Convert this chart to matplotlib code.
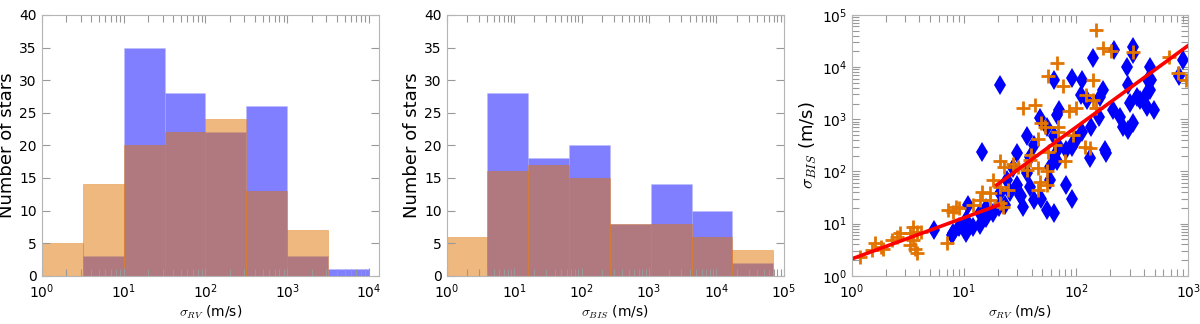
import numpy as np
import matplotlib
matplotlib.use('Agg')
import matplotlib.pyplot as plt

plt.rcParams['font.family'] = ['DejaVu Sans']
plt.rcParams['mathtext.fontset'] = 'cm'

# histogram bins (log10 edges) and counts
rv_edges = 10 ** np.arange(0, 4.01, 0.5)
rv_blue = [0, 3, 35, 28, 22, 26, 3, 1]
rv_orange = [5, 14, 20, 22, 24, 13, 7, 0]

bis_edges = 10 ** np.linspace(0, 4.84, 9)
bis_blue = [0, 28, 18, 20, 8, 14, 10, 2]
bis_orange = [6, 16, 17, 15, 8, 8, 6, 4]

# scatter, log10 values
cross_logx = [2.18, 2.24, 2.31, 2.51, 2.83, 2.91, 2.98, 1.825, 1.75, 1.88, 2.15, 2.09,
              2.15, 2.18, 2.0, 1.94, 1.53, 1.63, 1.69, 1.72, 1.84, 1.84, 1.97, 1.66,
              1.81, 1.75, 2.08, 2.12, 1.90, 1.60, 1.59, 1.32, 1.44, 1.36, 1.48, 1.56,
              1.66, 1.74, 1.68, 1.74, 1.66, 1.26, 1.32, 1.16, 1.23, 1.14, 1.23, 1.32,
              1.35, 1.39, 1.08, 0.905, 0.96, 0.86, 0.93, 0.55, 0.58, 0.52, 0.43, 0.40,
              0.36, 0.55, 0.56, 0.58, 0.21, 0.26, 0.18, 0.07, 0.85, 0.28, 0.62, 0.52]
cross_logy = [4.72, 4.36, 4.30, 4.28, 4.19, 3.88, 3.75, 4.07, 3.82, 3.63, 3.75, 3.47,
              3.37, 3.21, 3.21, 3.15, 3.21, 3.27, 2.92, 2.86, 2.86, 2.76, 2.70, 2.63,
              2.51, 2.38, 2.47, 2.44, 2.19, 2.31, 2.22, 2.19, 2.15, 2.09, 2.09, 2.03,
              2.06, 2.0, 1.80, 1.74, 1.64, 1.83, 1.71, 1.61, 1.58, 1.45, 1.45, 1.39,
              1.32, 1.64, 1.36, 1.23, 1.29, 1.26, 1.32, 0.94, 0.84, 0.81, 0.81, 0.75,
              0.68, 0.68, 0.52, 0.43, 0.62, 0.56, 0.49, 0.36, 0.62, 0.52, 0.84, 0.59]

diam_logx = [1.32, 1.16, 1.80, 1.96, 2.05, 2.15, 2.34, 2.45, 2.51, 2.51, 2.66, 2.67,
             2.63, 2.57, 2.48, 2.63, 2.69, 2.33, 2.39, 2.42, 2.46, 2.13, 2.10, 2.04,
             1.85, 1.83, 1.74, 1.80, 1.85, 1.68, 1.56, 1.62, 1.47, 1.44, 1.59, 1.80,
             1.83, 1.77, 1.91, 1.96, 2.0, 2.05, 2.26, 2.12, 2.27, 1.77, 1.91, 1.96,
             1.50, 1.53, 1.62, 1.74, 1.80, 1.69, 1.59, 1.47, 1.41, 1.38, 1.32, 1.31,
             1.26, 1.20, 1.14, 1.08, 1.02, 1.04, 1.02, 0.96, 0.905, 1.14, 1.20, 1.37,
             0.89, 0.73, 2.95, 2.92, 2.66, 2.64, 2.54, 2.46, 2.24, 2.21, 2.20, 1.97,
             1.56, 1.51, 2.51]
diam_logy = [3.66, 2.38, 3.75, 3.79, 3.75, 4.17, 4.33, 4.01, 4.26, 4.39, 4.01, 3.75,
             3.50, 3.37, 3.31, 3.24, 3.18, 3.18, 3.05, 2.86, 2.80, 2.86, 3.37, 3.47,
             3.18, 3.08, 2.86, 2.67, 2.47, 3.02, 2.67, 2.51, 2.35, 2.06, 2.28, 2.28,
             2.19, 2.09, 2.41, 2.47, 2.60, 2.76, 2.41, 2.25, 2.35, 1.84, 1.74, 1.48,
             1.55, 1.32, 1.45, 1.26, 1.20, 1.48, 1.71, 1.74, 1.61, 1.84, 1.58, 1.32,
             1.20, 1.10, 0.97, 0.94, 0.81, 1.36, 1.07, 0.94, 0.81, 1.20, 1.29, 1.36,
             0.78, 0.88, 4.14, 3.82, 3.56, 3.75, 3.43, 3.66, 3.56, 3.43, 3.05, 2.54,
             1.96, 1.52, 2.92]

# fitted relation, two segments
fit_lo_x = [1, 20.2]
fit_lo_y = [2.1, 22.5]
fit_hi_x = [19.6, 1000]
fit_hi_y = [55, 26000]

c_blue = '#0000ff'
c_orange = '#e17300'
tick_gray = '#999999'

fig = plt.figure(figsize=(12, 3.24), dpi=100)
ax1 = fig.add_axes([0.0348, 0.149, 0.2810, 0.805])
ax2 = fig.add_axes([0.3722, 0.149, 0.2811, 0.805])
ax3 = fig.add_axes([0.7098, 0.149, 0.2805, 0.805])


def style(ax):
    for s in ax.spines.values():
        s.set_color('#b5b5b5')
    ax.tick_params(which='both', direction='in', top=True, right=True,
                   colors=tick_gray, labelcolor='black', labelsize=10)
    ax.tick_params(which='major', length=6, width=0.8)
    ax.tick_params(which='minor', length=5, width=0.8)
    ax.tick_params(axis='x', which='both', pad=5)


def hist_panel(ax, edges, blue, orange, xmax, xlabel):
    mids = np.sqrt(edges[:-1] * edges[1:])
    ax.hist(mids, bins=edges, weights=blue, color=c_blue, alpha=0.5,
            edgecolor='#b8b8ff', linewidth=0.6)
    ax.hist(mids, bins=edges, weights=orange, color=c_orange, alpha=0.5,
            edgecolor=c_orange, linewidth=0.5)
    ax.set_xscale('log')
    ax.set_xlim(1, xmax)
    ax.set_ylim(0, 40)
    ax.set_yticks(range(0, 41, 5))
    ax.set_ylabel('Number of stars', fontsize=13, labelpad=2)
    ax.set_xlabel(xlabel, fontsize=10, labelpad=2)
    style(ax)


hist_panel(ax1, rv_edges, rv_blue, rv_orange, 10 ** 4.12, r'$\sigma_{RV}$ (m/s)')
hist_panel(ax2, bis_edges, bis_blue, bis_orange, 1e5, r'$\sigma_{BIS}$ (m/s)')

ax3.plot(10 ** np.array(diam_logx), 10 ** np.array(diam_logy), 'd', color=c_blue,
         markersize=10.5, markeredgewidth=0)
ax3.plot(10 ** np.array(cross_logx), 10 ** np.array(cross_logy), '+', color=c_orange,
         markersize=10, markeredgewidth=2)
ax3.plot(fit_lo_x, fit_lo_y, '-', color='red', linewidth=2.6)
ax3.plot(fit_hi_x, fit_hi_y, '-', color='red', linewidth=2.6)
ax3.set_xscale('log')
ax3.set_yscale('log')
ax3.set_xlim(1, 1000)
ax3.set_ylim(1, 1e5)
ax3.set_xlabel(r'$\sigma_{RV}$ (m/s)', fontsize=10, labelpad=2)
ax3.set_ylabel(r'$\sigma_{BIS}$ (m/s)', fontsize=13, labelpad=2)
style(ax3)

fig.savefig('out.png', dpi=100)
